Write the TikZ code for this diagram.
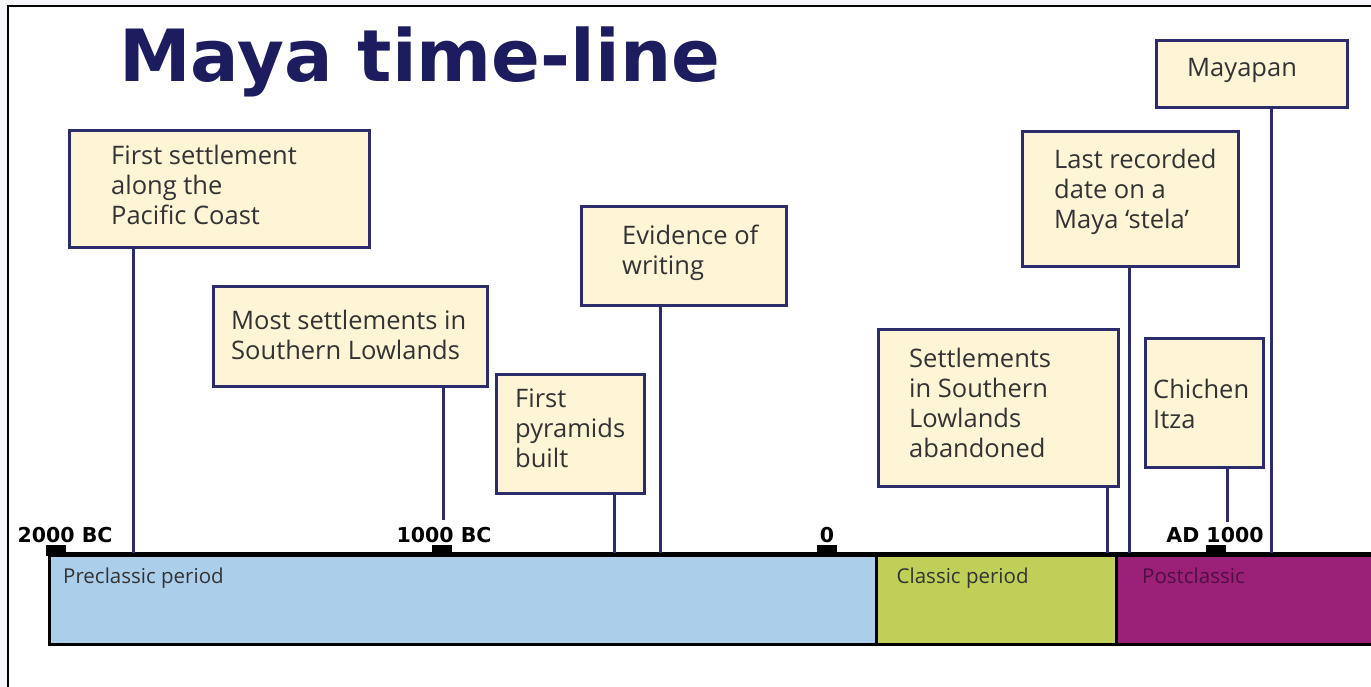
\documentclass[tikz,border=0pt]{standalone}
\usepackage{fontspec}
\setmainfont{Open Sans}
\newfontfamily\dejavu{DejaVu Sans}
\definecolor{navy}{HTML}{2C2C6C}
\definecolor{titlenavy}{HTML}{1C1C5E}
\definecolor{cream}{HTML}{FEF4D6}
\definecolor{textgray}{HTML}{333333}
\definecolor{preblue}{HTML}{ABCEEB}
\definecolor{classgreen}{HTML}{BFCF58}
\definecolor{postpurple}{HTML}{9B2077}
\definecolor{posttext}{HTML}{4F0F45}
\definecolor{pagegray}{HTML}{F7F7FB}
\newcommand{\evl}[1]{\begin{tabular}[t]{@{}l@{}}#1\end{tabular}}
\begin{document}
\begin{tikzpicture}[x=1pt,y=-1pt,
  evbox/.style={draw=navy, line width=3pt, fill=cream, inner sep=0pt, anchor=north west},
  evtext/.style={anchor=base west, inner sep=0pt, text=textgray, font=\fontsize{25.5}{30}\selectfont},
  conn/.style={draw=navy, line width=3pt},
  datelbl/.style={anchor=base, inner sep=0pt, font=\dejavu\bfseries\fontsize{20.5}{25}\selectfont},
  tickmark/.style={fill=black, inner sep=0pt, minimum width=20pt, minimum height=7pt, anchor=south},
  period/.style={draw=black, line width=3pt, inner sep=0pt, anchor=north west, minimum height=89pt},
  periodlbl/.style={anchor=base west, inner sep=0pt, font=\fontsize{20.5}{24}\selectfont}
]
\useasboundingbox (0,0) rectangle (1371,687);
% page and frame
\fill[pagegray] (0,0) rectangle (1371,687);
\fill[white] (8,6.5) rectangle (1371,687);
\draw[line width=2pt] (8,690) -- (8,6.5) -- (1375,6.5);

% title
\node[anchor=base west, inner sep=0pt, text=titlenavy, font=\dejavu\bfseries\fontsize{72}{88}\selectfont] (title) at (119,82) {Maya time-line};

% period bar
\node[period, fill=preblue, minimum width=827.5pt] (pre) at (47.5,554) {};
\node[period, fill=classgreen, minimum width=240pt] (cls) at (875,554) {};
\node[period, fill=postpurple, minimum width=275pt] (post) at (1115,554) {};
\draw[line width=4pt] (pre.north west) ++(-1.5,0) -- (post.north east);
\node[periodlbl, text=textgray] (prel) at (63,583) {Preclassic period};
\node[periodlbl, text=textgray] (clsl) at (896.5,583) {Classic period};
\node[periodlbl, text=posttext] (postl) at (1142,583) {Postclassic};

% ticks and dates
\node[tickmark] (t2000) at (55.5,552.5) {};
\node[tickmark] (t1000) at (442,552.5) {};
\node[tickmark] (t0) at (827,552.5) {};
\node[tickmark] (tad) at (1216,552.5) {};
\node[datelbl] (l2000) at (65,542) {2000 BC};
\node[datelbl] (l1000) at (444,542) {1000 BC};
\node[datelbl] (l0) at (827,542) {0};
\node[datelbl] (lad) at (1215,542) {AD 1000};

% connector ends
\coordinate (c1) at (133,553);
\coordinate (c2) at (443,520);
\coordinate (c3) at (614,553);
\coordinate (c4) at (660,553);
\coordinate (c5) at (1107,553);
\coordinate (c6) at (1129,553);
\coordinate (c7) at (1227,522);
\coordinate (c8) at (1271,553);

% event boxes
\node[evbox, minimum width=300pt, minimum height=117pt] (b1) at (67.5,129.5) {};
\node[evbox, minimum width=274pt, minimum height=100pt] (b2) at (211.5,284.5) {};
\node[evbox, minimum width=205pt, minimum height=98pt] (b3) at (579.5,205.5) {};
\node[evbox, minimum width=148pt, minimum height=119pt] (b4) at (494.5,372.5) {};
\node[evbox, minimum width=216pt, minimum height=134pt] (b5) at (1020.5,130.5) {};
\node[evbox, minimum width=240pt, minimum height=157pt] (b6) at (876.5,327.5) {};
\node[evbox, minimum width=118pt, minimum height=129pt] (b7) at (1143.5,336.5) {};
\node[evbox, minimum width=191pt, minimum height=67pt] (b8) at (1154.5,39.5) {};

% connectors
\draw[conn] (b1.south -| c1) -- (c1);
\draw[conn] (b2.south -| c2) -- (c2);
\draw[conn] (b4.south -| c3) -- (c3);
\draw[conn] (b3.south -| c4) -- (c4);
\draw[conn] (b6.south -| c5) -- (c5);
\draw[conn] (b5.south -| c6) -- (c6);
\draw[conn] (b7.south -| c7) -- (c7);
\draw[conn] (b8.south -| c8) -- (c8);

% event texts
\node[evtext] (x1) at (111,165) {\evl{First settlement\\along the\\Pacific Coast}};
\node[evtext] (x2) at (231,329) {\evl{Most settlements in\\Southern Lowlands}};
\node[evtext] (x3) at (622,245) {\evl{Evidence of\\writing}};
\node[evtext] (x4) at (515,407) {\evl{First\\pyramids\\built}};
\node[evtext] (x5) at (1054,169) {\evl{Last recorded\\date on a\\Maya ‘stela’}};
\node[evtext] (x6) at (909,367) {\evl{Settlements\\in Southern\\Lowlands\\abandoned}};
\node[evtext] (x7) at (1153,398) {\evl{Chichen\\Itza}};
\node[evtext] (x8) at (1187,77) {Mayapan};
\end{tikzpicture}
\end{document}
